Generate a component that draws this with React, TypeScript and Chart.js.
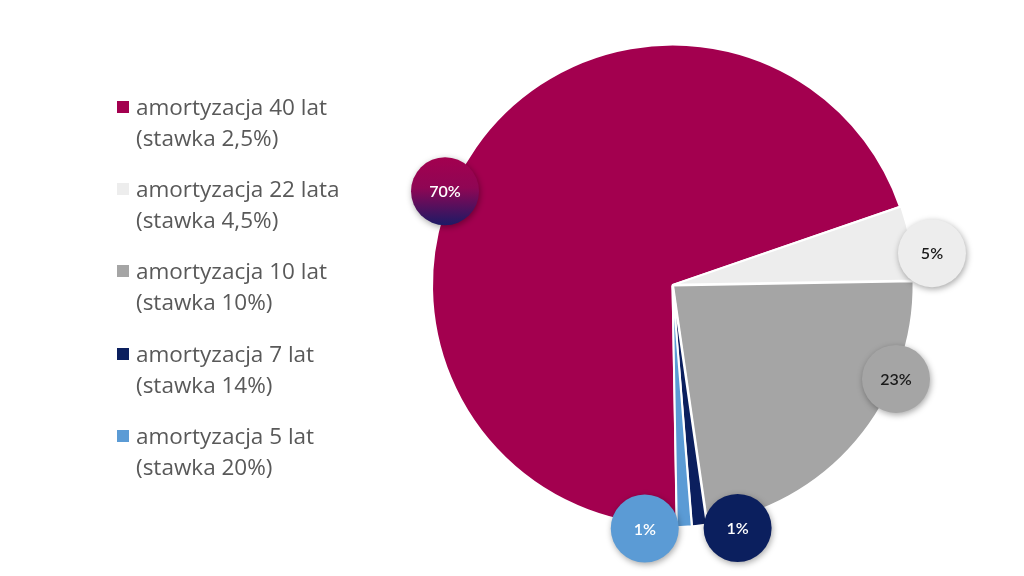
import React, { useEffect, useRef } from "react";
import { Chart, registerables } from "chart.js";

Chart.register(...registerables);

const categories = [
  ["amortyzacja 40 lat", "(stawka 2,5%)"],
  ["amortyzacja 22 lata", "(stawka 4,5%)"],
  ["amortyzacja 10 lat", "(stawka 10%)"],
  ["amortyzacja 7 lat", "(stawka 14%)"],
  ["amortyzacja 5 lat", "(stawka 20%)"],
];
const shares = [70, 5, 23, 1, 1];
const percentLabels = ["70%", "5%", "23%", "1%", "1%"];
const sliceColors = ["#A3004F", "#EDEDED", "#A5A5A5", "#0B1F5E", "#5B9BD5"];
const labelTextColors = ["#FFFFFF", "#1A1A1A", "#1A1A1A", "#FFFFFF", "#FFFFFF"];
// Hand-placed data-label bubbles (angle clockwise from top in degrees, distance as fraction of radius)
const labelAngles = [292.4, 83, 112.8, 165, 186.5];
const labelDist = [1.023, 1.087, 1.008, 1.046, 1.019];

const bubblePlugin = {
  id: "bubbles",
  afterDatasetsDraw(chart: any) {
    const meta = chart.getDatasetMeta(0);
    const arc0 = meta.data[0];
    if (!arc0) return;
    const cx = arc0.x;
    const cy = arc0.y;
    const R = arc0.outerRadius;
    const ctx = chart.ctx;
    const r = 34;
    percentLabels.forEach((txt, i) => {
      const a = ((labelAngles[i] - 90) * Math.PI) / 180;
      const d = labelDist[i] * R;
      const x = cx + Math.cos(a) * d;
      const y = cy + Math.sin(a) * d;
      ctx.save();
      ctx.shadowColor = "rgba(0,0,0,0.35)";
      ctx.shadowBlur = 6;
      ctx.shadowOffsetX = 1;
      ctx.shadowOffsetY = 2;
      let fill: any = sliceColors[i];
      if (i === 0) {
        const g = ctx.createLinearGradient(x, y - r, x, y + r);
        g.addColorStop(0, "#A3004F");
        g.addColorStop(0.45, "#8F0654");
        g.addColorStop(1, "#1C1A66");
        fill = g;
      }
      ctx.beginPath();
      ctx.arc(x, y, r, 0, Math.PI * 2);
      ctx.fillStyle = fill;
      ctx.fill();
      ctx.restore();
      ctx.save();
      ctx.fillStyle = labelTextColors[i];
      ctx.font = "600 16px Lato, 'Open Sans', sans-serif";
      ctx.textAlign = "center";
      ctx.textBaseline = "middle";
      ctx.fillText(txt, x, y + 1);
      ctx.restore();
    });
  },
};

export default function App() {
  const ref = useRef<HTMLCanvasElement | null>(null);
  useEffect(() => {
    if (!ref.current) return;
    const chart = new Chart(ref.current, {
      type: "pie",
      data: {
        labels: categories.map((c) => c.join(" ")),
        datasets: [
          {
            data: shares,
            backgroundColor: sliceColors,
            borderColor: "#FFFFFF",
            borderWidth: 2,
            offset: [0, 3, 3, 3, 3],
          },
        ],
      },
      options: {
        animation: false,
        responsive: false,
        rotation: 179,
        layout: { padding: { left: 427, right: 106, top: 42, bottom: 48 } },
        plugins: {
          legend: { display: false },
          tooltip: { enabled: false },
        },
      },
      plugins: [bubblePlugin],
    });
    return () => chart.destroy();
  }, []);

  return (
    <div
      style={{
        position: "fixed",
        left: 0,
        top: 0,
        width: 1024,
        height: 576,
        background: "#FFFFFF",
        overflow: "hidden",
      }}
    >
      <canvas ref={ref} width={1024} height={576} style={{ position: "absolute", left: 0, top: 0 }} />
      {categories.map((lines, i) => (
        <div
          key={i}
          style={{
            position: "absolute",
            left: 117,
            top: 91 + i * 82.2,
            fontFamily: "'Open Sans', 'Noto Sans', sans-serif",
            fontSize: 22.5,
            lineHeight: "31px",
            color: "#595959",
            whiteSpace: "nowrap",
          }}
        >
          <span
            style={{
              position: "absolute",
              left: 0,
              top: 10,
              width: 12,
              height: 12,
              background: sliceColors[i],
            }}
          />
          <div style={{ marginLeft: 19 }}>{lines[0]}</div>
          <div style={{ marginLeft: 19 }}>{lines[1]}</div>
        </div>
      ))}
    </div>
  );
}
